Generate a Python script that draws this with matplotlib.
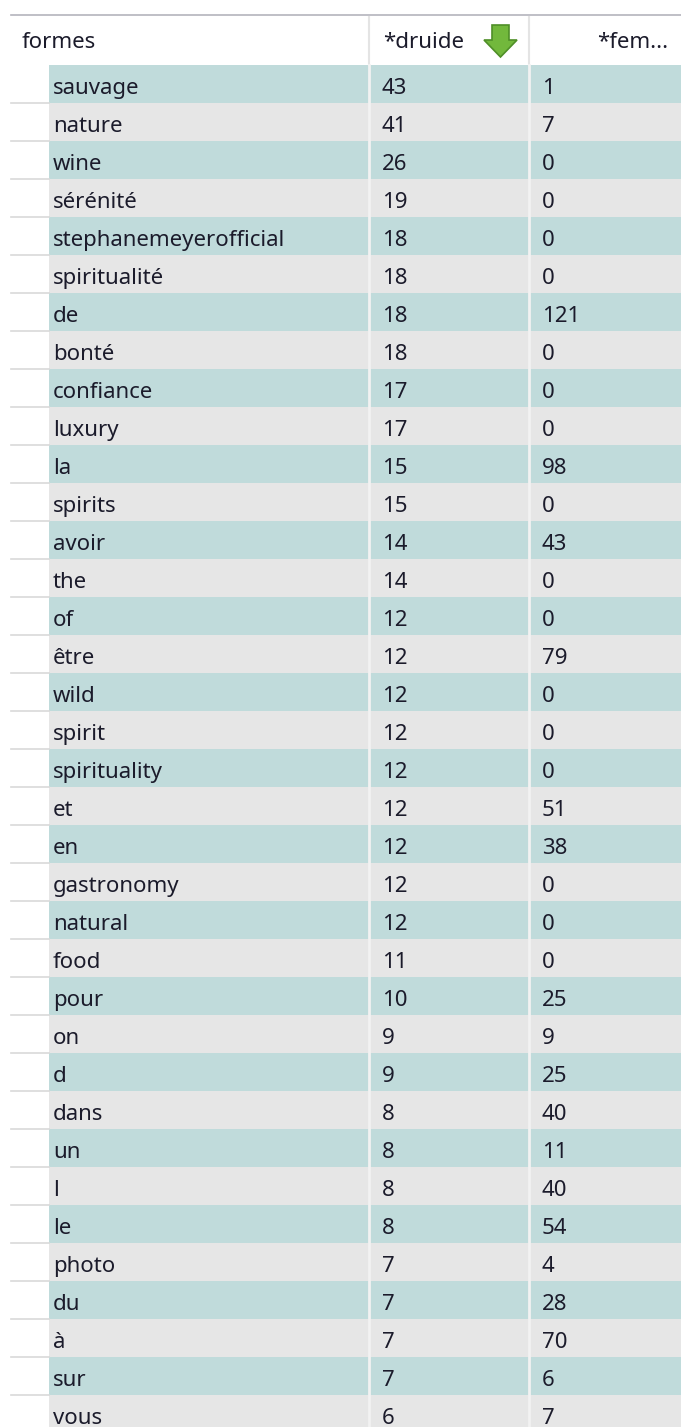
import matplotlib.pyplot as plt
from matplotlib.patches import Polygon

# Table contents
formes = ['sauvage', 'nature', 'wine', 'sérénité', 'stephanemeyerofficial',
          'spiritualité', 'de', 'bonté', 'confiance', 'luxury', 'la', 'spirits',
          'avoir', 'the', 'of', 'être', 'wild', 'spirit', 'spirituality', 'et',
          'en', 'gastronomy', 'natural', 'food', 'pour', 'on', 'd', 'dans',
          'un', 'l', 'le', 'photo', 'du', 'à', 'sur', 'vous']
druide = [43, 41, 26, 19, 18, 18, 18, 18, 17, 17, 15, 15, 14, 14, 12, 12, 12,
          12, 12, 12, 12, 12, 12, 11, 10, 9, 9, 8, 8, 8, 8, 7, 7, 7, 7, 6]
fem = [1, 7, 0, 0, 0, 0, 121, 0, 0, 0, 98, 0, 43, 0, 0, 79, 0, 0, 0, 51, 38,
       0, 0, 0, 25, 9, 25, 40, 11, 40, 54, 4, 28, 70, 6, 7]
headers = ['formes', '*druide', '*fem...']

W, H = 681, 1427
top = 65       # first data row (px)
rh = 38        # row height (px)
teal = '#c0dbdb'
grey = '#e6e6e6'
txt = '#1b1b2b'
fs = 16

plt.rcParams['font.family'] = ['Noto Sans', 'DejaVu Sans']

fig = plt.figure(figsize=(W / 100, H / 100), dpi=100)
ax = fig.add_axes([0, 0, 1, 1])
ax.set_xlim(0, W)
ax.set_ylim(H, 0)
ax.axis('off')

# header
ax.plot([11, W], [15, 15], color='#b4b4bc', lw=1.2)
for x in (369, 529):
    ax.plot([x, x], [17, top], color='#e4e4e4', lw=1.5)
ax.text(22, 48.5, headers[0], fontsize=fs, color=txt, va='baseline', ha='left')
ax.text(383, 48.5, headers[1], fontsize=fs, color=txt, va='baseline', ha='left')
ax.text(668, 48.5, headers[2], fontsize=fs, color=txt, va='baseline', ha='right')

# sort arrow
arrow = Polygon([(492, 25), (509, 25), (509, 40), (517, 40), (500.5, 57),
                 (484, 40), (492, 40)], closed=True,
                facecolor='#72b83c', edgecolor='#4f8f28', lw=1.2)
ax.add_patch(arrow)

# rows
n = len(formes)
ys = [top + rh * i for i in range(n)]
colors = [teal if i % 2 == 0 else grey for i in range(n)]
ax.barh(ys, W - 49, left=49, height=rh, align='edge', color=colors, lw=0)
for i in range(n):
    yb = ys[i] + 29
    ax.text(53, yb, formes[i], fontsize=fs, color=txt, va='baseline', ha='left')
    ax.text(382, yb, str(druide[i]), fontsize=fs, color=txt, va='baseline', ha='left')
    ax.text(542, yb, str(fem[i]), fontsize=fs, color=txt, va='baseline', ha='left')
    if i > 0:
        ax.plot([11, 49], [ys[i], ys[i]], color='#d9d9d9', lw=1.2)

# column separators in body
for x in (369, 529):
    ax.plot([x, x], [top, H], color='#f2f2f2', lw=2)

fig.savefig('out.png', dpi=100)
